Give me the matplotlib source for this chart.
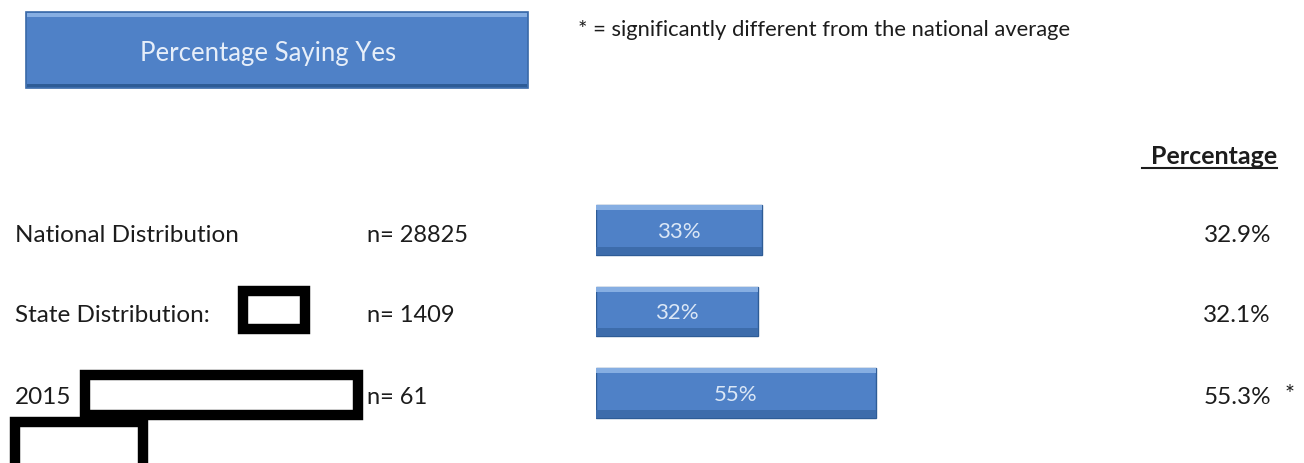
import matplotlib.pyplot as plt
from matplotlib.patches import Rectangle

# Data
groups = ['National Distribution', 'State Distribution:', '2015']
n_counts = [28825, 1409, 61]
pct = [32.9, 32.1, 55.3]
bar_labels = ['33%', '32%', '55%']
significant = [False, False, True]

plt.rcParams['font.family'] = ['Lato', 'DejaVu Sans']

W, H = 1304, 463
fig = plt.figure(figsize=(W / 100, H / 100), dpi=100)

# background axes in pixel coordinates for text and boxes
bg = fig.add_axes([0, 0, 1, 1])
bg.set_xlim(0, W)
bg.set_ylim(H, 0)
bg.axis('off')

blue = '#4f81c7'
dark = '#2e5c96'
light = '#86aee2'
txt = '#1c1c1c'

# header box
bg.add_patch(Rectangle((26, 12), 502, 76, facecolor=blue, edgecolor='#3a6aa8', lw=1.2))
bg.add_patch(Rectangle((27, 13), 500, 4, facecolor=light, edgecolor='none'))
bg.add_patch(Rectangle((27, 84), 500, 3, facecolor=dark, edgecolor='none'))
bg.text(268, 53, 'Percentage Saying Yes', fontsize=18.5, color='#e6eef9',
        ha='center', va='center')

bg.text(578, 30, '* = significantly different from the national average',
        fontsize=15.8, color=txt, ha='left', va='center')

bg.text(1277, 156, 'Percentage', fontsize=18, color=txt, weight='bold',
        ha='right', va='center')
bg.plot([1142, 1277], [168, 168], color=txt, lw=1.5)

row_y = [236, 315, 397]
for i, g in enumerate(groups):
    y = row_y[i]
    bg.text(15, y, g, fontsize=17.5, color=txt, ha='left', va='center')
    bg.text(367, y, f'n= {n_counts[i]}', fontsize=17, color=txt, ha='left', va='center')
    bg.text(1271, y, f'{pct[i]:.1f}%', fontsize=17.5, color=txt, ha='right', va='center')
    if significant[i]:
        bg.text(1285, y - 3, '*', fontsize=17, color=txt, ha='left', va='center')

# redaction boxes
for (x0, y0, w, h) in [(243, 291, 62, 38), (85, 375, 273, 40), (15, 422, 128, 50)]:
    bg.add_patch(Rectangle((x0, y0), w, h, facecolor='white', edgecolor='black', lw=7.5))

# bars in their own axes (percent scale)
px_per_pct = 5.06
step = 81.5
ax = fig.add_axes([596 / W, (H - (393 + step / 2)) / H, 60 * px_per_pct / W, 3 * step / H])
ax.set_xlim(0, 60)
ax.set_ylim(2.5, -0.5)
ax.axis('off')
ypos = list(range(len(pct)))
bh = 0.61
ax.barh(ypos, pct, height=bh, color=blue, edgecolor=dark, lw=1)
ax.barh([y - bh / 2 + 0.03 for y in ypos], pct, height=0.06, color=light, edgecolor='none')
ax.barh([y + bh / 2 - 0.05 for y in ypos], pct, height=0.1, color='#3d6cab', edgecolor='none')
for y, p, lab in zip(ypos, pct, bar_labels):
    ax.text(p / 2, y + 0.02, lab, fontsize=16, color='#dbe7f6', ha='center', va='center')

fig.savefig('out.png', dpi=100)
